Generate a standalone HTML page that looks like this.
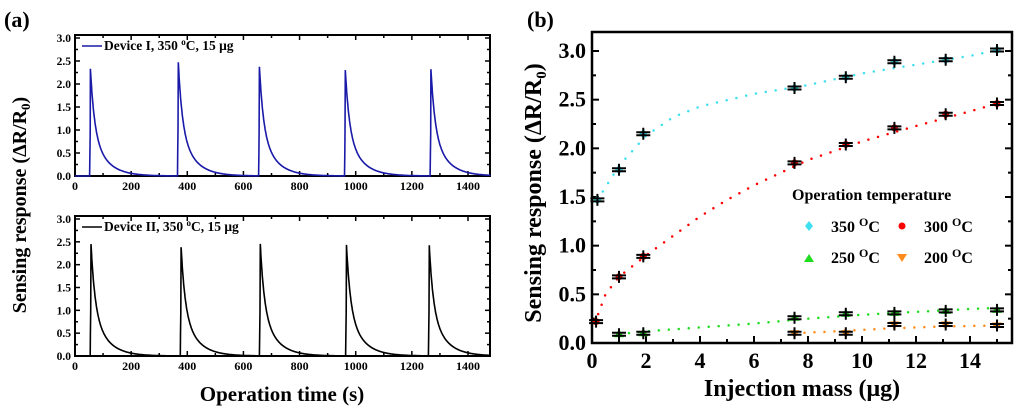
<!DOCTYPE html>
<html><head><meta charset="utf-8"><style>
body{margin:0;background:#fff;width:1024px;height:409px;overflow:hidden}
svg{font-family:"Liberation Serif",serif;font-weight:bold}
</style></head><body>
<svg id="svg" width="1024" height="409" viewBox="0 0 1024 409" xmlns="http://www.w3.org/2000/svg">
<text x="4" y="27" font-size="22">(a)</text>
<text x="527" y="27" font-size="22">(b)</text>
<text transform="translate(26,205) rotate(-90)" text-anchor="middle" font-size="20">Sensing response (ΔR/R<tspan font-size="13" dy="4">0</tspan><tspan dy="-4">)</tspan></text>
<text x="282" y="401" text-anchor="middle" font-size="21">Operation time (s)</text>
<text transform="translate(541,193) rotate(-90)" text-anchor="middle" font-size="24">Sensing response (ΔR/R<tspan font-size="15" dy="5">0</tspan><tspan dy="-5">)</tspan></text>
<text x="802" y="396" text-anchor="middle" font-size="24">Injection mass (μg)</text>
<g id="ga"></g><g id="gb"></g>
<g>
<text x="792" y="200" font-size="16">Operation temperature</text>
<path d="M809,221 l4,5 l-4,5 l-4,-5z" fill="#3ee0f0"/>
<text x="831" y="232" font-size="16">350 <tspan dy="-6" font-size="12">O</tspan><tspan dy="6">C</tspan></text>
<circle cx="902" cy="226" r="3.5" fill="#f00"/>
<text x="924" y="232" font-size="16">300 <tspan dy="-6" font-size="12">O</tspan><tspan dy="6">C</tspan></text>
<path d="M804,262 l5,-8 l5,8z" fill="#1fdc1f"/>
<text x="831" y="263" font-size="16">250 <tspan dy="-6" font-size="12">O</tspan><tspan dy="6">C</tspan></text>
<path d="M897,254 l5,8 l5,-8z" fill="#ff8c1a"/>
<text x="924" y="263" font-size="16">200 <tspan dy="-6" font-size="12">O</tspan><tspan dy="6">C</tspan></text>
</g>
</svg>
<script>
// panel (a) data
const peakTimesI=[55,368,657,963,1268];
const peakHeightsI=[2.33,2.47,2.37,2.30,2.32];
const peakTimesII=[57,378,660,967,1262];
const peakHeightsII=[2.45,2.38,2.45,2.43,2.42];
const timeTicks=[0,200,400,600,800,1000,1200,1400];
const respTicks=[0,0.5,1,1.5,2,2.5,3];
// panel (b) data
const massTicks=[0,2,4,6,8,10,12,14];
const resp2Ticks=[0,0.5,1,1.5,2,2.5,3];
const mass350=[0.2,1,1.9,7.5,9.4,11.2,13.1,15];
const resp350=[1.47,1.78,2.15,2.62,2.73,2.89,2.91,3.01];
const mass300=[0.15,1,1.9,7.5,9.4,11.2,13.1,15];
const resp300=[0.22,0.68,0.89,1.85,2.04,2.21,2.35,2.46];
const mass250=[1,1.9,7.5,9.4,11.2,13.1,15];
const resp250=[0.09,0.10,0.26,0.30,0.31,0.33,0.34];
const mass200=[7.5,9.4,11.2,13.1,15];
const resp200=[0.10,0.10,0.19,0.19,0.18];
const fitX350=[0.2,0.5,1,2,3,4,6,8,10,12,14,15];
const fitY350=[1.47,1.6,1.82,2.13,2.32,2.43,2.56,2.65,2.77,2.86,2.95,3.01];
const fitX300=[0.1,0.3,0.5,1,2,3,4,5,6,8,10,12,14,15];
const fitY300=[0.2,0.35,0.5,0.68,0.9,1.1,1.3,1.47,1.62,1.88,2.07,2.23,2.38,2.46];
const fitX250=[1,2,4,6,8,10,12,14,15];
const fitY250=[0.09,0.12,0.16,0.2,0.25,0.29,0.32,0.35,0.36];
const fitX200=[7.5,9,11,13,15];
const fitY200=[0.1,0.12,0.15,0.17,0.18];

const NS='http://www.w3.org/2000/svg';
function mk(parent,tag,attrs){const e=document.createElementNS(NS,tag);for(const k in attrs)e.setAttribute(k,attrs[k]);parent.appendChild(e);return e;}

const ga=document.getElementById('ga');
function panelA(top,bottom,times,heights,color,label,name){
  const L=75,R=490;
  const sx=t=>L+t*(468-L)/1400, sy=v=>bottom-v*(bottom-top-3)/3;
  const fr=mk(ga,'rect',{x:L,y:top,width:R-L,height:bottom-top,fill:'none',stroke:'#000','stroke-width':2});
  
  
  for(let t=0;t<=1450;t+=100){
    const len=t%200===0?5:3;
    mk(ga,'line',{x1:sx(t),x2:sx(t),y1:bottom,y2:bottom-len,stroke:'#000','stroke-width':1.5});
    mk(ga,'line',{x1:sx(t),x2:sx(t),y1:top,y2:top+len,stroke:'#000','stroke-width':1.5});
  }
  timeTicks.forEach(t=>{const e=mk(ga,'text',{x:sx(t),y:bottom+14,'text-anchor':'middle','font-size':12});e.textContent=t;
    
    });
  for(let v=0;v<=3.01;v+=0.25){const len=(Math.round(v*4)%2===0)?5:3;
    mk(ga,'line',{x1:L,x2:L+len,y1:sy(v),y2:sy(v),stroke:'#000','stroke-width':1.5});
    mk(ga,'line',{x1:R,x2:R-len,y1:sy(v),y2:sy(v),stroke:'#000','stroke-width':1.5});}
  respTicks.forEach(v=>{const e=mk(ga,'text',{x:L-4,y:sy(v)+4,'text-anchor':'end','font-size':11.5});e.textContent=v.toFixed(1);
    
    });
  let pts=[];let t=0;
  while(t<=1480){
    let v=0;
    times.forEach((tp,i)=>{const dt=t-tp;
      if(dt>=-3&&dt<0)v+=heights[i]*0.6*(dt+3)/3;
      else if(dt>=0)v+=heights[i]*(0.55*Math.exp(-dt/14)+0.45*Math.exp(-dt/50));});
    pts.push(sx(t).toFixed(1)+','+sy(Math.min(v,3)).toFixed(1));
    t+=1;
  }
  const p=mk(ga,'polyline',{points:pts.join(' '),fill:'none',stroke:color,'stroke-width':1.6});
  
  
  mk(ga,'line',{x1:L+7,x2:L+27,y1:top+11,y2:top+11,stroke:color,'stroke-width':1.5});
  const lt=mk(ga,'text',{x:L+29,y:top+15,'font-size':13.5});
  lt.innerHTML=label;
  
  
}
panelA(35,176,peakTimesI,peakHeightsI,'#1a1aa8','Device I, 350 <tspan dy="-5" font-size="9">o</tspan><tspan dy="5">C, 15 μg</tspan>','panel-a-top');
panelA(216,356,peakTimesII,peakHeightsII,'#000','Device II, 350 <tspan dy="-5" font-size="9">o</tspan><tspan dy="5">C, 15 μg</tspan>','panel-a-bottom');

const gb=document.getElementById('gb');
const BL=592,BR=1012,BT=32,BB=343;
const bx=m=>BL+m*(970-BL)/14, by=v=>BB-v*(BB-51)/3;
const bf=mk(gb,'rect',{x:BL,y:BT,width:BR-BL,height:BB-BT,fill:'none',stroke:'#000','stroke-width':2.5});


for(let m=0;m<=15.4;m+=1){const len=m%2===0?7:4;
  mk(gb,'line',{x1:bx(m),x2:bx(m),y1:BB,y2:BB-len,stroke:'#000','stroke-width':2});}
massTicks.forEach(m=>{const e=mk(gb,'text',{x:bx(m),y:BB+25,'text-anchor':'middle','font-size':22});e.textContent=m;
  
  });
for(let v=0;v<=3.2;v+=0.25){const len=(Math.round(v*4)%2===0)?7:4;
  mk(gb,'line',{x1:BL,x2:BL+len,y1:by(v),y2:by(v),stroke:'#000','stroke-width':2});
  mk(gb,'line',{x1:BR,x2:BR-len,y1:by(v),y2:by(v),stroke:'#000','stroke-width':2});}
resp2Ticks.forEach(v=>{const e=mk(gb,'text',{x:BL-6,y:by(v)+7,'text-anchor':'end','font-size':22});e.textContent=v.toFixed(1);
  
  });
function fit(xs,ys,color,name){
  const p=mk(gb,'polyline',{points:xs.map((x,i)=>bx(x)+','+by(ys[i])).join(' '),fill:'none',stroke:color,'stroke-width':2.5,'stroke-dasharray':'0 10','stroke-linecap':'round'});
  
  
}
fit(fitX350,fitY350,'#3ee0f0','fit-350');
fit(fitX300,fitY300,'#f00','fit-300');
fit(fitX250,fitY250,'#1fdc1f','fit-250');
fit(fitX200,fitY200,'#ff8c1a','fit-200');
function pts(xs,ys,color,shape,name){
  xs.forEach((m,i)=>{const x=bx(m),y=by(ys[i]);let e;
    if(shape==='d')e=mk(gb,'path',{d:`M${x},${y-5} l4,5 l-4,5 l-4,-5z`,fill:color});
    else if(shape==='c')e=mk(gb,'circle',{cx:x,cy:y,r:3.5,fill:color});
    else if(shape==='u')e=mk(gb,'path',{d:`M${x-5},${y+3} l5,-8 l5,8z`,fill:color});
    else e=mk(gb,'path',{d:`M${x-5},${y-3} l5,8 l5,-8z`,fill:color});
    
    
    const eb=mk(gb,'path',{d:`M${x-7},${y-1.5} h14 M${x-7},${y+1.5} h14 M${x},${y-6} v12`,stroke:'#000','stroke-width':2,fill:'none'});
    
    
  });
}
pts(mass350,resp350,'#3ee0f0','d','series-350');
pts(mass300,resp300,'#f00','c','series-300');
pts(mass250,resp250,'#1fdc1f','u','series-250');
pts(mass200,resp200,'#ff8c1a','v','series-200');
</script>
</body></html>
